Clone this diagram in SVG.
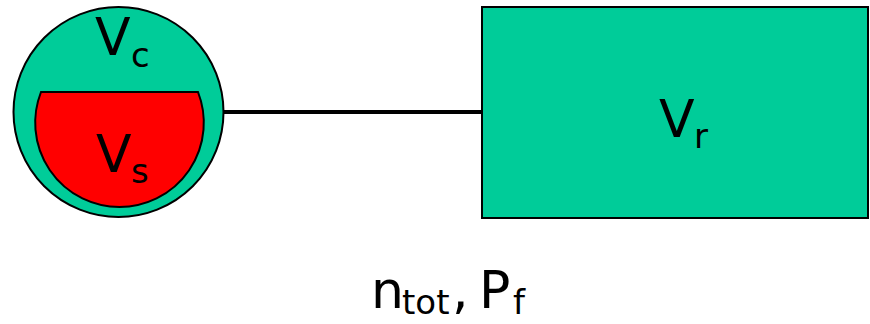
<svg xmlns="http://www.w3.org/2000/svg" width="870" height="324" viewBox="0 0 870 324">
  <style>
    .vessel { fill: #00cc99; stroke: #000; stroke-width: 2; }
    .sample { fill: #ff0000; stroke: #000; stroke-width: 2; }
    .pipe { stroke: #000; stroke-width: 4; fill: none; }
    .lbl { font-family: "DejaVu Sans", "Liberation Sans", sans-serif; fill: #000; }
    .big { font-size: 52px; }
    .sub { font-size: 34px; }
  </style>

  <g id="connectors">
    <line class="pipe" x1="223" y1="112" x2="482" y2="112"/>
  </g>

  <g id="cell">
    <circle class="vessel" cx="118.5" cy="112" r="105"/>
    <text class="lbl"><tspan class="big" x="95" y="55">V</tspan><tspan class="sub" x="131" y="67">c</tspan></text>
  </g>

  <g id="sample">
    <path class="sample" d="M41,92 L198,92 A84.3,84.3 0 1,1 41,92 Z"/>
    <text class="lbl"><tspan class="big" x="96" y="172">V</tspan><tspan class="sub" x="131" y="183">s</tspan></text>
  </g>

  <g id="reservoir">
    <rect class="vessel" x="482" y="7" width="386" height="211"/>
    <text class="lbl"><tspan class="big" x="659" y="137">V</tspan><tspan class="sub" x="694" y="148">r</tspan></text>
  </g>

  <g id="state">
    <text class="lbl"><tspan class="big" x="371" y="308">n</tspan><tspan class="sub" x="402" y="314">tot</tspan><tspan class="big" x="452" y="308">,</tspan><tspan class="big" x="479" y="308">P</tspan><tspan class="sub" x="513" y="314">f</tspan></text>
  </g>
</svg>
